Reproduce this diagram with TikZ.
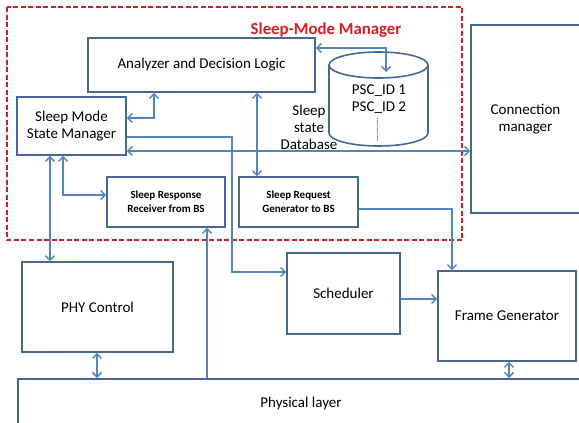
\documentclass[tikz,border=0pt]{standalone}
\usepackage{fontspec}
\setmainfont{Carlito}
\usetikzlibrary{arrows.meta}
\definecolor{boxcol}{RGB}{72,104,148}
\definecolor{linecol}{RGB}{84,132,190}
\definecolor{mgrred}{RGB}{214,30,36}
\tikzset{
  blk/.style={draw=boxcol, line width=1.6pt, fill=white, align=center, inner sep=0pt,
              font=\fontsize{15}{17}\selectfont},
  smallblk/.style={blk, font=\fontsize{11}{14}\selectfont\bfseries},
  link/.style={draw=linecol, line width=1.5pt},
  tip/.tip={Straight Barb[length=4.5pt,width=9pt,line width=1.5pt]},
}
\begin{document}
\begin{tikzpicture}[x=1pt,y=-1pt]
\useasboundingbox (0,0) rectangle (579,423);
\clip (0,0) rectangle (579,423);

% sleep-mode manager frame
\draw[mgrred, line width=1.5pt, dash pattern=on 5pt off 2.5pt] (7,7) rectangle (462,240);
\node[text=mgrred, font=\fontsize{16.8}{19}\selectfont\bfseries] (title) at (326,30) {Sleep-Mode Manager};

% blocks
\node[blk, minimum width=227pt, minimum height=54pt] (adl) at (201.5,65) {Analyzer and Decision Logic};
\node[blk, minimum width=109pt, minimum height=58pt] (smsm) at (71.5,126) {Sleep Mode\\State Manager};
\node[smallblk, minimum width=118pt, minimum height=50pt] (srr) at (166,202) {Sleep Response\\Receiver from BS};
\node[smallblk, minimum width=119pt, minimum height=50pt] (srg) at (298.5,202) {Sleep Request\\Generator to BS};
\node[blk, minimum width=109pt, minimum height=188pt] (conn) at (525.5,119) {Connection\\manager};
\node[blk, minimum width=151pt, minimum height=90pt] (phy) at (97.5,307) {PHY Control};
\node[blk, minimum width=113pt, minimum height=81pt] (sched) at (343.5,293.5) {Scheduler};
\node[blk, minimum width=138pt, minimum height=90pt] (fg) at (507,316) {Frame Generator};
\node[blk, minimum width=590pt, minimum height=60pt, anchor=north west] (phys) at (17,378) {};
\node[font=\fontsize{15}{17}\selectfont] (physlbl) at (301,403) {Physical layer};

% sleep state database (cylinder)
\fill[white] (329,65) -- (329,133) arc[start angle=180,end angle=360,x radius=49.5pt,y radius=13pt]
  -- (428,65) arc[start angle=0,end angle=180,x radius=49.5pt,y radius=13pt] -- cycle;
\draw[boxcol, line width=1.6pt] (378.5,65) ellipse[x radius=49.5pt,y radius=13pt];
\draw[boxcol, line width=1.6pt] (329,65) -- (329,133) arc[start angle=180,end angle=360,x radius=49.5pt,y radius=13pt] -- (428,65);
\coordinate (dbin) at (386,72);
\node[font=\fontsize{15}{17}\selectfont, align=center] (psc) at (379,99.5) {PSC\_ID 1\\PSC\_ID 2};
\draw[gray, densely dotted, line width=0.6pt] (377,118) -- (377,141);
\node[font=\fontsize{15}{17}\selectfont, align=center] (dblbl) at (309,127) {Sleep\\state\\Database};

% connectors
\draw[link, tip-tip] (smsm.east |- 0,118) -| (adl.south -| 154,0);
\draw[link, tip-tip] (adl.east |- 0,48) -| (dbin);
\draw[link, tip-tip] (smsm.east |- 0,151) -- (conn.west |- 0,151);
\draw[link, tip-tip] (adl.south -| 257,0) -- (srg.north -| 257,0);
\draw[link, tip-tip] (smsm.south -| 63,0) |- (srr.west |- 0,195);
\draw[link, tip-tip] (smsm.south -| 50,0) -- (phy.north -| 50,0);
\draw[link, -tip] (smsm.east |- 0,137) -| (232,272) -- (sched.west |- 0,272);
\draw[link, -tip] (phys.north -| 207,0) -- (srr.south -| 207,0);
\draw[link, -tip] (srg.east |- 0,209) -| (fg.north -| 452,0);
\draw[link, -tip] (sched.east |- 0,299) -- (fg.west |- 0,299);
\draw[link, tip-tip] (phy.south -| 97,0) -- (phys.north -| 97,0);
\draw[link, tip-tip] (fg.south -| 509,0) -- (phys.north -| 509,0);
\end{tikzpicture}
\end{document}
